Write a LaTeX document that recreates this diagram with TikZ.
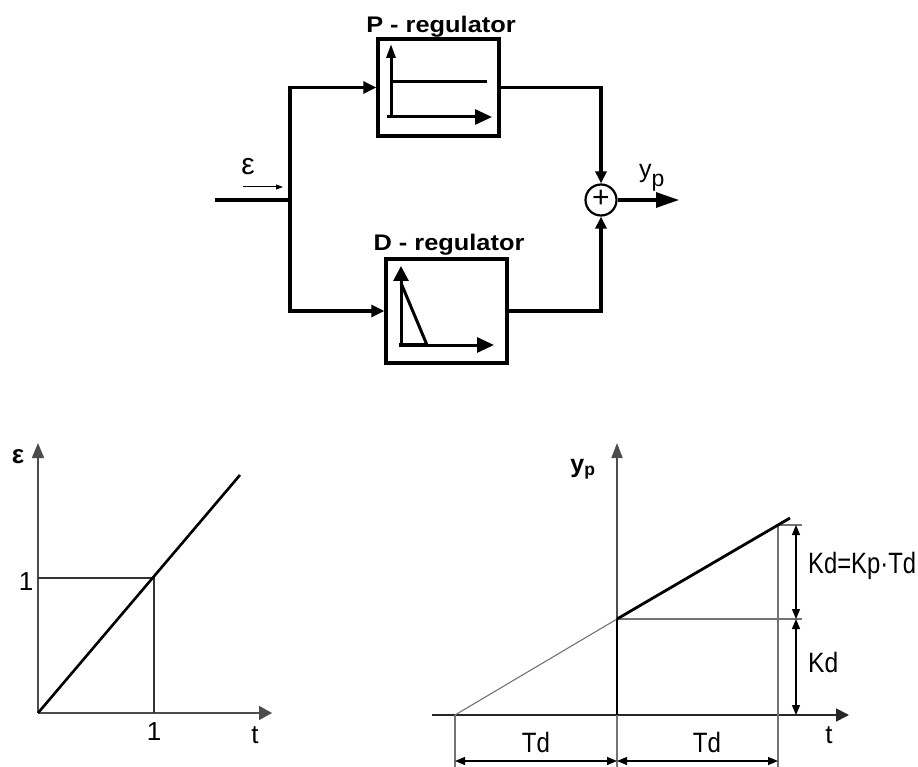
\documentclass[tikz,border=0pt]{standalone}
\usepackage{graphicx}
\usepackage{fontspec}
\setmainfont{Liberation Sans}
\usetikzlibrary{arrows.meta}
\begin{document}
\begin{tikzpicture}[x=1pt,y=-1pt,
  block/.style={draw, line width=3.4pt, inner sep=0pt, minimum width=121pt},
  wire/.style={line width=3.1pt},
  bigtip/.style={-{Triangle[length=13pt,width=12pt]}},
  icon/.style={line width=3pt},
  axis/.style={line width=1.6pt, draw=black!70},
  guide/.style={line width=1.1pt, draw=black!55},
  dimarrow/.style={line width=1.2pt, {Triangle[length=10pt,width=8pt]}-{Triangle[length=10pt,width=8pt]}},
  title/.style={anchor=base, font=\bfseries\fontsize{21.5}{21.5}\selectfont},
  lab/.style={anchor=base, font=\fontsize{26}{26}\selectfont},
  dimlab/.style={anchor=base west, font=\fontsize{28}{28}\selectfont}
]
\useasboundingbox (0,0) rectangle (918,767);

% ---------------- block diagram ----------------
\node[block, minimum height=97pt] (P) at (438.5,87.5) {};
\node[block, minimum height=104pt] (D) at (446.5,311) {};
\node[draw, circle, line width=2.2pt, minimum size=31pt, inner sep=0pt,
      font=\fontsize{30}{30}\selectfont] (sum) at (601,200) {};
\node[font=\fontsize{30}{30}\selectfont, inner sep=0pt] (plus) at (601,199) {+};

\node[title] (Pt) at (441,33) {\scalebox{1.18}[1.05]{P - regulator}};
\node[title] (Dt) at (449,251) {\scalebox{1.18}[1.05]{D - regulator}};

\coordinate (in) at (215,200);
\coordinate (j) at (290,200);
\coordinate (jt) at (290,87.5);
\coordinate (jb) at (290,311);
\coordinate (out) at (679,200);

\draw[wire] (in) -- (j);
\draw[wire, line cap=rect] (jt) -- (jb);
\draw[wire, bigtip] (jt) -- (P.west);
\draw[wire, bigtip] (jb) -- (D.west);
\draw[wire, -{Triangle[length=12pt,width=11pt]}] (P.east) -| (sum.north);
\draw[wire, -{Triangle[length=12pt,width=11pt]}] (D.east) -| (sum.south);
\draw[wire, -{Triangle[length=23pt,width=15pt]}] (sum.east) -- (out);

\node[lab, font=\fontsize{30}{30}\selectfont] (eps) at (248,175) {ε};
\coordinate (ea) at (243,187);
\coordinate (eb) at (283,187);
\draw[line width=1pt, -{Triangle[length=7pt,width=5pt]}] (ea) -- (eb);
\node[anchor=base west, font=\fontsize{25}{25}\selectfont, inner sep=0pt] (yp) at (639,178) {y\raisebox{-9pt}{\fontsize{23}{23}\selectfont p}};

% P icon
\draw[icon, -{Triangle[length=14pt,width=9pt]}] (391,117) -- (391,44);
\draw[icon] (391,82) -- (487,82);
\draw[icon, -{Triangle[length=17pt,width=15pt]}] (387,117) -- (492,117);

% D icon
\draw[icon, -{Triangle[length=15pt,width=15pt]}] (401,346) -- (401,266);
\draw[icon] (401,283) -- (427,345);
\draw[line width=4.5pt] (399,345) -- (428,345);
\draw[icon, -{Triangle[length=17pt,width=15pt]}] (427,345) -- (494,345);

% ---------------- left graph ----------------
\coordinate (o1) at (38,713);
\coordinate (y1) at (38,443);
\coordinate (x1) at (272,713);
\coordinate (r1) at (240,475);
\coordinate (p1) at (154,578);
\coordinate (p1y) at (38,578);
\coordinate (p1x) at (154,713);
\draw[axis, -{Triangle[length=15pt,width=12pt]}] (o1) -- (y1);
\draw[axis, -{Triangle[length=13pt,width=14pt]}] (o1) -- (x1);
\draw[guide, draw=black!80] (p1y) -- (p1) -- (p1x);
\draw[line width=2.6pt] (o1) -- (r1);
\node[lab, font=\bfseries\fontsize{26}{26}\selectfont] (e1) at (18,463) {ε};
\node[lab] (one1) at (26,590) {1};
\node[lab] (one2) at (154,740) {1};
\node[lab] (t1) at (255,743) {t};

% ---------------- right graph ----------------
\coordinate (o2) at (617,715);
\coordinate (y2) at (617,443);
\coordinate (x2a) at (432,715);
\coordinate (x2) at (849,715);
\coordinate (s2) at (455,715);
\coordinate (k2) at (617,619);
\coordinate (e2) at (790,518);
\coordinate (k2r) at (802,619);
\coordinate (e2a) at (777,525);
\coordinate (e2r) at (802,525);
\coordinate (v3t) at (778,525);
\coordinate (v3b) at (778,767);
\coordinate (v1b) at (455,767);
\coordinate (v2b) at (617,767);
\draw[axis, -{Triangle[length=15pt,width=11pt]}] (o2) -- (y2);
\draw[axis, draw=black!85, -{Triangle[length=13pt,width=13pt]}] (x2a) -- (x2);
\draw[guide] (s2) -- (k2);
\draw[guide] (k2) -- (k2r);
\draw[guide] (e2a) -- (e2r);
\draw[guide] (v3t) -- (v3b);
\draw[guide] (s2) -- (v1b);
\draw[guide] (o2) -- (v2b);
\draw[line width=2.8pt] (o2) -- (k2);
\draw[line width=2.8pt] (k2) -- (e2);
\coordinate (d1t) at (796,525);
\coordinate (d1m) at (796,619);
\coordinate (d1b) at (796,715);
\draw[dimarrow] (d1t) -- (d1m);
\draw[dimarrow] (d1m) -- (d1b);
\coordinate (h1) at (455,761);
\coordinate (h2) at (617,761);
\coordinate (h3) at (778,761);
\draw[dimarrow] (h1) -- (h2);
\draw[dimarrow] (h2) -- (h3);
\node[anchor=base, font=\bfseries\fontsize{25}{25}\selectfont] (yp2) at (583,472) {y\textsubscript{p}};
\node[dimlab, inner sep=0pt] (kd1) at (808,573) {\scalebox{0.85}[1.05]{Kd=Kp·Td}};
\node[dimlab, inner sep=0pt] (kd2) at (808,672) {\scalebox{0.88}[1]{Kd}};
\node[anchor=base, font=\fontsize{28}{28}\selectfont] (td1) at (536,752) {\scalebox{0.86}[1]{Td}};
\node[anchor=base, font=\fontsize{28}{28}\selectfont] (td2) at (707,752) {\scalebox{0.86}[1]{Td}};
\node[lab] (t2) at (829,743) {t};
\end{tikzpicture}
\end{document}
